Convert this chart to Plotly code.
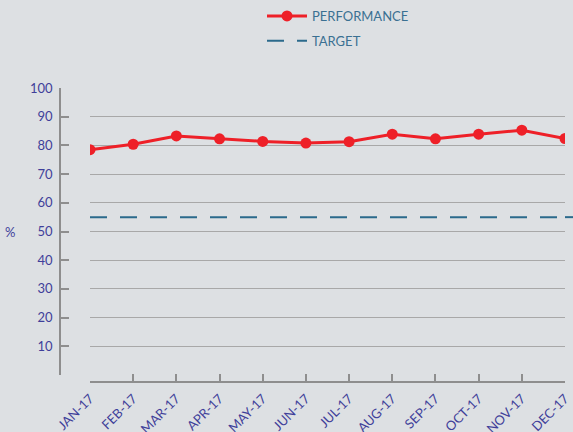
import plotly.graph_objects as go

months = ["JAN-17", "FEB-17", "MAR-17", "APR-17", "MAY-17", "JUN-17",
          "JUL-17", "AUG-17", "SEP-17", "OCT-17", "NOV-17", "DEC-17"]
performance = [78.5, 80.4, 83.3, 82.3, 81.4, 80.8, 81.3, 83.9, 82.3, 83.9, 85.3, 82.4]
target_value = 55
target = [target_value] * len(months)
y_ticks = [0, 10, 20, 30, 40, 50, 60, 70, 80, 90, 100]
y_tick_labels = ["", "10", "20", "30", "40", "50", "60", "70", "80", "90", "100"]

BG = "#dde0e3"
RED = "#ee2028"
TEAL = "#2b6a8c"
INDIGO = "#3f3f9a"
LEGEND_TXT = "#3a7092"
GRID = "#a8a8a8"
AXIS = "#8e8e8e"
FONT = "Lato, 'Open Sans', sans-serif"

W, H = 573, 432
ML, MR, MT, MB = 60, 0, 88, 50
pw = W - ML - MR
ph = H - MT - MB
x0 = 30 / pw
x1 = 505 / pw

fig = go.Figure()
fig.add_trace(go.Scatter(
    x=months, y=performance, name="PERFORMANCE", mode="lines+markers",
    legendgroup="perf",
    line=dict(color=RED, width=3), marker=dict(color=RED, size=11),
))
fig.add_trace(go.Scatter(
    x=months, y=target, name="TARGET", mode="lines",
    legendgroup="target",
    line=dict(color=TEAL, width=2, dash="17px,13px"),
))
# extension of the target line beyond the last category to the right edge
fig.add_shape(type="line", xref="paper", yref="y", x0=x1, x1=1.0,
              y0=target_value, y1=target_value,
              line=dict(color=TEAL, width=2, dash="17px,13px"))

fig.update_layout(
    width=W, height=H,
    margin=dict(l=ML, r=MR, t=MT, b=MB, autoexpand=False),
    paper_bgcolor=BG, plot_bgcolor=BG,
    font=dict(family=FONT, size=13, color=INDIGO),
    showlegend=True,
    legend=dict(x=(262 - ML) / pw, xanchor="left", y=1 + (MT - 1) / ph, yanchor="top",
                orientation="v", bgcolor="rgba(0,0,0,0)",
                font=dict(family=FONT, size=13, color=LEGEND_TXT),
                tracegroupgap=5, itemwidth=40),
    xaxis=dict(
        domain=[x0, x1], range=[0, len(months) - 1], type="category",
        anchor="free", position=0, automargin=False,
        showgrid=False, zeroline=False,
        showline=True, linecolor=AXIS, linewidth=2,
        ticks="inside", ticklen=7, tickwidth=1.5, tickcolor=AXIS,
        tickangle=-45, ticklabelstandoff=3,
        tickfont=dict(family=FONT, size=13, color=INDIGO),
    ),
    yaxis=dict(
        domain=[7 / ph, 1], range=[0, 100],
        anchor="free", position=0, automargin=False,
        tickvals=y_ticks, ticktext=y_tick_labels,
        showgrid=True, gridcolor=GRID, gridwidth=1.2,
        zeroline=False,
        showline=True, linecolor=AXIS, linewidth=1.5,
        ticks="inside", ticklen=8, tickwidth=1.5, tickcolor=AXIS,
        ticklabelstandoff=4,
        tickfont=dict(family=FONT, size=13, color=INDIGO),
    ),
    annotations=[dict(text="%", xref="paper", yref="y domain", x=(10 - ML) / pw, y=0.5,
                      xanchor="center", yanchor="middle", showarrow=False,
                      font=dict(family=FONT, size=13, color=INDIGO))],
)

fig.write_html(
    "out.html",
    config={"displayModeBar": False},
    post_script="document.body.style.margin='0';document.body.style.background='%s';" % BG,
)
